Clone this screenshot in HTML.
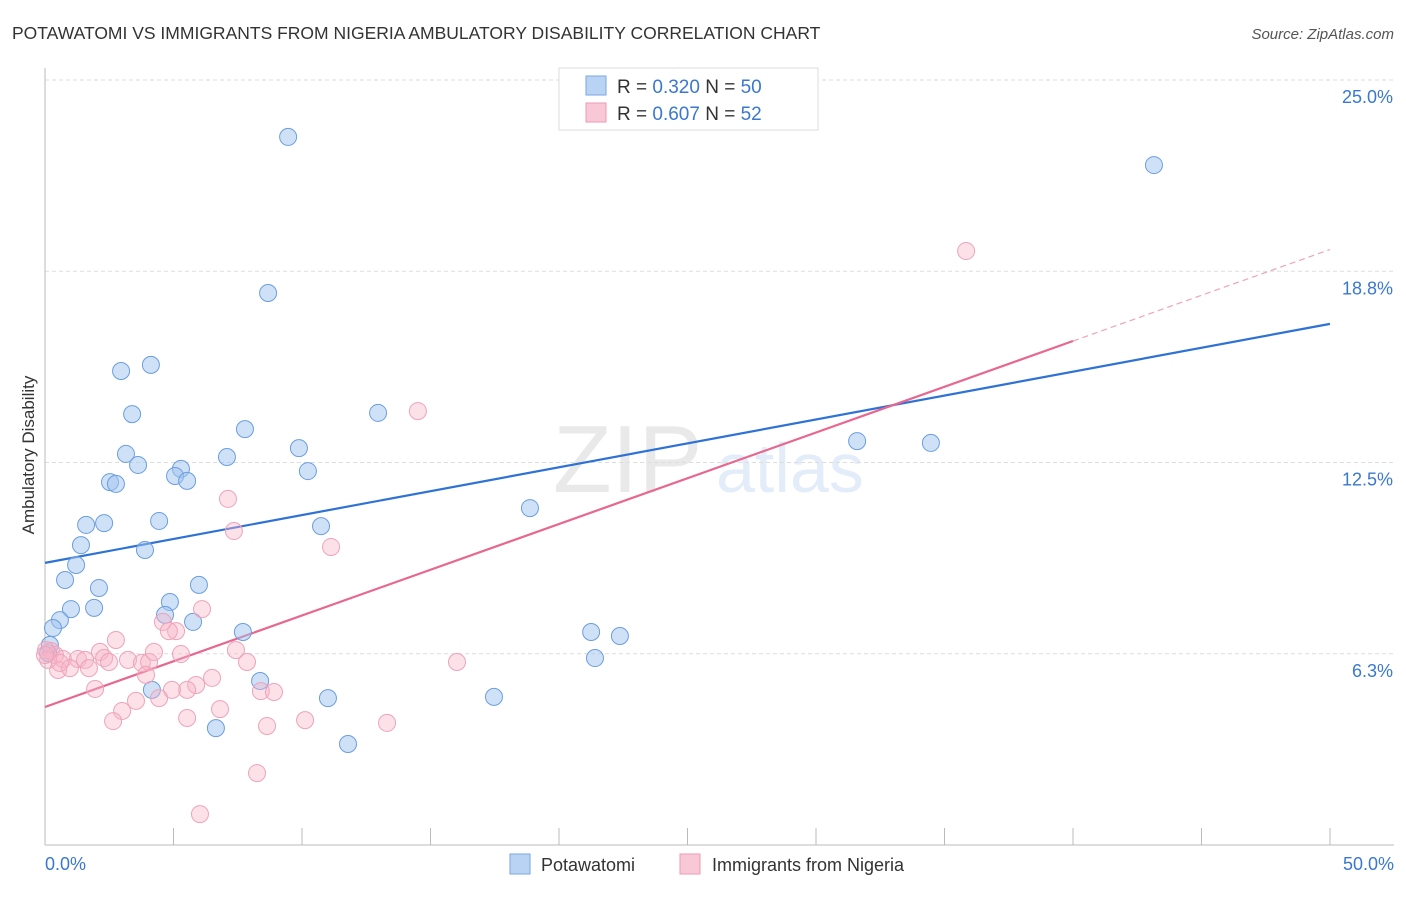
<!DOCTYPE html>
<html><head><meta charset="utf-8"><style>
body{margin:0;background:#fff;font-family:"Liberation Sans",sans-serif;}
svg text{font-family:"Liberation Sans",sans-serif;}
</style></head><body>
<svg id="chart" width="1406" height="892" xmlns="http://www.w3.org/2000/svg">
<text x="12" y="39" font-size="17.5" fill="#333">POTAWATOMI VS IMMIGRANTS FROM NIGERIA AMBULATORY DISABILITY CORRELATION CHART</text>
<text x="1394" y="39" font-size="15" fill="#555" font-style="italic" text-anchor="end">Source: ZipAtlas.com</text>
<g opacity="0.18">
<text x="553" y="492" font-size="96" font-family="Liberation Serif" fill="#888">ZIP</text>
<text x="716" y="492" font-size="70" fill="#6a9be0">atlas</text>
</g>
<g id="grid"></g>
<g id="axes"></g>
<g id="lines"></g>
<g id="points"></g>
<text transform="translate(34,455) rotate(-90)" font-size="17" fill="#333" text-anchor="middle">Ambulatory Disability</text>
<g>
<rect x="559" y="68" width="259" height="62" fill="#fff" stroke="#ddd"/>
<rect x="586" y="76" width="20" height="19" fill="#b9d3f5" stroke="#7aa7e0"/>
<rect x="586" y="103" width="20" height="19" fill="#f8c8d6" stroke="#eb9ab3"/>
<text x="617" y="93" font-size="19" fill="#333">R = <tspan fill="#3a78d0">0.320</tspan>   N = <tspan fill="#3a78d0">50</tspan></text>
<text x="617" y="120" font-size="19" fill="#333">R = <tspan fill="#3a78d0">0.607</tspan>   N = <tspan fill="#3a78d0"> 52</tspan></text>
</g>
<g>
<rect x="510" y="854" width="20" height="20" fill="#b9d3f5" stroke="#7aa7e0"/>
<text x="541" y="871" font-size="18" fill="#333">Potawatomi</text>
<rect x="680" y="854" width="20" height="20" fill="#f8c8d6" stroke="#eb9ab3"/>
<text x="712" y="871" font-size="18" fill="#333">Immigrants from Nigeria</text>
</g>
</svg>
<script>
const yTicks=[25.0,18.8,12.5,6.3];
const yTickVals=[25,18.75,12.5,6.25];
const xTickLabels=["0.0%","50.0%"];
const blueX=[9.46,43.15,8.68,4.12,2.96,3.39,7.78,12.96,3.15,3.62,9.88,5.29,5.06,5.53,7.08,10.23,2.53,2.76,31.6,34.47,18.87,1.6,2.3,4.44,10.74,1.4,3.89,1.21,0.78,2.1,5.99,1.01,1.91,4.86,4.67,5.76,0.58,0.31,7.7,21.25,22.37,21.4,0.12,8.37,4.16,11.01,17.47,6.65,11.79,0.19];
const blueY=[23.14,22.22,18.04,15.69,15.49,14.08,13.59,14.12,12.78,12.42,12.97,12.29,12.06,11.9,12.68,12.22,11.86,11.8,13.2,13.14,11.01,10.46,10.52,10.59,10.42,9.8,9.64,9.15,8.66,8.4,8.5,7.71,7.75,7.94,7.52,7.29,7.35,7.09,6.96,6.96,6.83,6.11,6.27,5.36,5.07,4.8,4.84,3.82,3.3,6.54];
const pinkX=[35.84,14.51,7.12,7.35,11.13,16.03,6.11,2.76,4.59,5.1,4.82,0.23,0.39,0.7,1.28,1.56,2.14,2.3,2.49,3.23,3.77,4.05,4.24,5.29,7.43,7.86,0.51,0.97,1.71,3.93,1.95,6.5,5.88,5.53,4.94,4.44,3.54,8.4,8.91,6.81,3.0,2.65,5.53,10.12,13.31,8.64,8.25,6.03,0.04,0.12,0.58,0];
const pinkY=[19.41,14.18,11.31,10.26,9.74,5.98,7.71,6.7,7.29,6.99,6.99,6.34,6.21,6.08,6.08,6.05,6.31,6.11,5.98,6.05,5.95,5.98,6.31,6.24,6.37,5.98,5.72,5.78,5.78,5.56,5.1,5.46,5.23,5.07,5.07,4.8,4.71,5.03,5.0,4.44,4.38,4.05,4.15,4.08,3.99,3.89,2.35,1.01,6.37,6.05,5.95,6.21];
const blueLine=[9.22,17.03];
const pinkLine=[4.51,19.46];
const pinkSolidEnd=40;
const NS="http://www.w3.org/2000/svg";
const sx=v=>45+v*(1285/50);
const sy=v=>845-v*(765/25);
function mk(t,a,p){const e=document.createElementNS(NS,t);for(const k in a)e.setAttribute(k,a[k]);p.appendChild(e);return e;}
const grid=document.getElementById('grid'),axes=document.getElementById('axes');
yTickVals.forEach((v,i)=>{
const l=mk('line',{x1:45,x2:1394,y1:sy(v),y2:sy(v),stroke:'#ddd','stroke-dasharray':'4,3'},grid);


const t=mk('text',{x:1393,y:sy(v)+23,'font-size':18,fill:'#3a78d0','text-anchor':'end'},axes);
t.textContent=yTicks[i].toFixed(1)+'%';


});
mk('line',{x1:45,x2:45,y1:68,y2:845,stroke:'#bbb'},axes);
mk('line',{x1:45,x2:1394,y1:845,y2:845,stroke:'#bbb'},axes);
for(let i=0;i<=10;i++){const x=sx(i*5);const tk=mk('line',{x1:x,x2:x,y1:828,y2:845,stroke:'#bbb'},axes);

}
const xl0=mk('text',{x:45,y:870,'font-size':18,fill:'#3a78d0'},axes);xl0.textContent=xTickLabels[0];


const xl1=mk('text',{x:1394,y:870,'font-size':18,fill:'#3a78d0','text-anchor':'end'},axes);xl1.textContent=xTickLabels[1];


const pts=document.getElementById('points');
blueX.forEach((x,i)=>{const c=mk('circle',{cx:sx(x),cy:sy(blueY[i]),r:8.5,fill:'rgba(160,196,240,0.5)',stroke:'#6b9edf','stroke-width':1},pts);

});
pinkX.forEach((x,i)=>{const c=mk('circle',{cx:sx(x),cy:sy(pinkY[i]),r:8.5,fill:'rgba(248,180,200,0.4)',stroke:'#eea3ba','stroke-width':1},pts);

});
const lines=document.getElementById('lines');
const bl=mk('line',{x1:sx(0),y1:sy(blueLine[0]),x2:sx(50),y2:sy(blueLine[1]),stroke:'#2f72d6','stroke-width':2.2},lines);


const pAt=x=>pinkLine[0]+(pinkLine[1]-pinkLine[0])*x/50;
const pl=mk('line',{x1:sx(0),y1:sy(pAt(0)),x2:sx(pinkSolidEnd),y2:sy(pAt(pinkSolidEnd)),stroke:'#e8678f','stroke-width':2.2},lines);


const pd=mk('line',{x1:sx(pinkSolidEnd),y1:sy(pAt(pinkSolidEnd)),x2:sx(50),y2:sy(pAt(50)),stroke:'#eea3ba','stroke-width':1.2,'stroke-dasharray':'6,4'},lines);


</script>
</body></html>
